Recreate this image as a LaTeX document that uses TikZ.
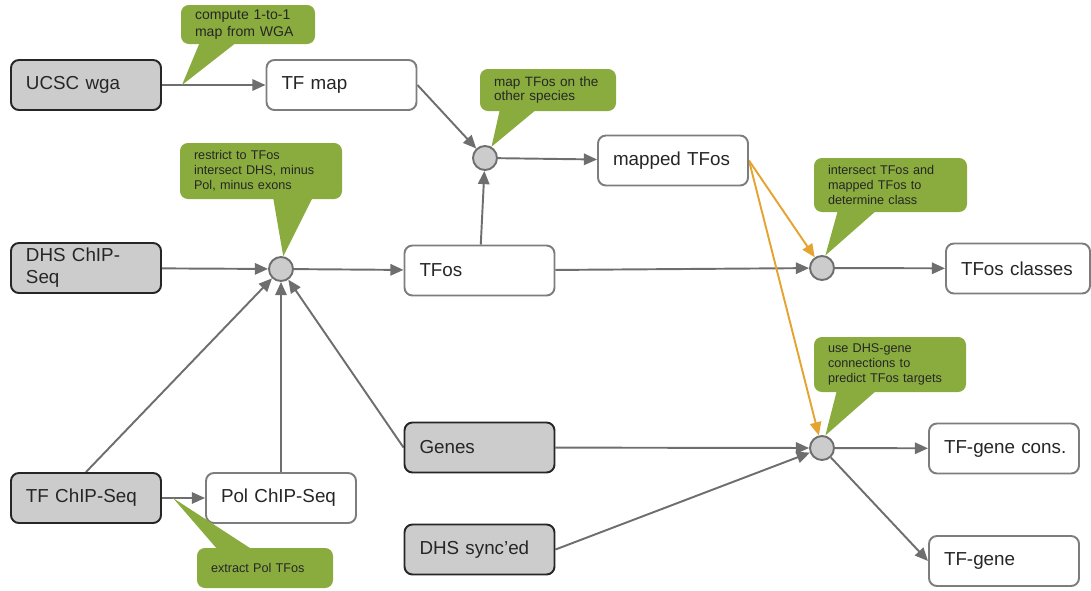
\documentclass[tikz,border=0pt]{standalone}
\usepackage{fontspec}
\setmainfont{Liberation Sans}
\usepackage{tikz}
\usetikzlibrary{arrows.meta}
\pgfdeclarelayer{bg}
\pgfsetlayers{bg,main}
\definecolor{notegreen}{HTML}{8AAC3E}
\definecolor{maporange}{HTML}{E5A331}
\definecolor{boxgray}{HTML}{CCCCCC}
\definecolor{linegray}{HTML}{6E6E6E}
\tikzset{
        box/.style={draw=linegray!90, line width=1.1pt, rounded corners=4.5pt, fill=white,
                minimum height=1cm, text width=2.4cm, inner xsep=0.3cm, inner ysep=0pt,
                align=left, font=\fontsize{10.7}{12.5}\selectfont, text=black!85},
        src/.style={box, draw=black!85, fill=boxgray},
        junc/.style={circle, draw=linegray, line width=1.1pt, fill=boxgray, minimum size=0.48cm, inner sep=0pt},
        note/.style={fill=notegreen, rounded corners=4.5pt, inner xsep=0.28cm, inner ysep=0pt,
                align=left, font=\fontsize{7.2}{8.5}\selectfont, text=black!85},
        arr/.style={draw=linegray, line width=1.1pt, -{Triangle[length=7.5pt,width=6.5pt]}},
        orarr/.style={arr, draw=maporange},
}

\begin{document}
\begin{tikzpicture}
        \useasboundingbox (0cm, 0cm) rectangle (21.820000cm, -11.800000cm);
        % boxes
        \node (ucsc) [src] at (1.720000cm, -1.700000cm) {UCSC wga};
        \node (tfmap) [box] at (6.830000cm, -1.700000cm) {TF map};
        \node (dhs) [src] at (1.720000cm, -5.360000cm) {DHS ChIP-\\Seq};
        \node (tfos) [box] at (9.590000cm, -5.410000cm) {TFos};
        \node (mapped) [box] at (13.460000cm, -3.210000cm) {mapped TFos};
        \node (classes) [box, text width=2.28cm] at (20.360000cm, -5.370000cm) {TFos classes};
        \node (genes) [src] at (9.590000cm, -8.950000cm) {Genes};
        \node (sync) [src] at (9.590000cm, -10.990000cm) {DHS sync'ed};
        \node (tfchip) [src] at (1.720000cm, -9.960000cm) {TF ChIP-Seq};
        \node (pol) [box] at (5.620000cm, -9.960000cm) {Pol ChIP-Seq};
        \node (cons) [box] at (20.080000cm, -8.970000cm) {\mbox{TF-gene cons.}};
        \node (tfgene) [box] at (20.080000cm, -11.220000cm) {TF-gene};
        % junctions
        \node (j0) [junc] at (5.620000cm, -5.380000cm) {};
        \node (j1) [junc] at (9.700000cm, -3.160000cm) {};
        \node (j2) [junc] at (16.440000cm, -5.360000cm) {};
        \node (j3) [junc] at (16.440000cm, -8.960000cm) {};
        \coordinate (t0) at (3.640000cm, -1.700000cm);
        \coordinate (t5) at (3.460000cm, -9.960000cm);
        \begin{pgfonlayer}{bg}
                \draw (ucsc) edge [arr] (tfmap);
                \draw (tfmap.east) edge [arr] (j1);
                \draw (j1) edge [arr] (mapped);
                \draw (tfos) edge [arr] (j1);
                \draw (dhs) edge [arr] (j0);
                \draw (j0) edge [arr] (tfos);
                \draw (tfos) edge [arr] (j2);
                \draw (mapped.east) edge [orarr] (j2);
                \draw (mapped.east) edge [orarr] (j3);
                \draw (j2) edge [arr] (classes);
                \draw (tfchip.north) edge [arr] (j0);
                \draw (pol.north) edge [arr] (j0);
                \draw (genes.west) edge [arr] (j0);
                \draw (genes) edge [arr] (j3);
                \draw (sync.east) edge [arr] (j3);
                \draw (tfchip) edge [arr] (pol);
                \draw (j3) edge [arr] (cons);
                \draw (j3) edge [arr] (tfgene.west);
        \end{pgfonlayer}
        % notes
        \node (n0) [note, text width=2.12cm, minimum height=0.78cm, font=\fontsize{8}{9.5}\selectfont] at (4.960000cm, -0.490000cm) {compute 1-to-1\\map from WGA};
        \node (n1) [note, text width=2.68cm, minimum height=1.12cm] at (5.220000cm, -3.420000cm) {restrict to TFos\\intersect DHS, minus\\Pol, minus exons};
        \node (n2) [note, text width=2.16cm, minimum height=0.84cm, font=\fontsize{7.7}{8.5}\selectfont] at (10.960000cm, -1.800000cm) {map TFos on the\\other species};
        \node (n3) [note, text width=2.50cm, minimum height=1.08cm] at (17.810000cm, -3.700000cm) {intersect TFos and\\mapped TFos to\\determine class};
        \node (n4) [note, text width=2.48cm, minimum height=1.10cm] at (17.800000cm, -7.290000cm) {use DHS-gene\\connections to\\predict TFos targets};
        \node (n5) [note, text width=2.16cm, minimum height=0.80cm] at (5.300000cm, -11.360000cm) {extract Pol TFos};
        \fill [notegreen] (4.000000cm, -0.840000cm) -- (t0) -- (4.740000cm, -0.840000cm) -- cycle;
        \fill [notegreen] (5.460000cm, -3.940000cm) -- (j0.80) -- (6.260000cm, -3.940000cm) -- cycle;
        \fill [notegreen] (10.000000cm, -2.180000cm) -- (j1.60) -- (10.740000cm, -2.180000cm) -- cycle;
        \fill [notegreen] (16.760000cm, -4.200000cm) -- (j2.75) -- (17.540000cm, -4.200000cm) -- cycle;
        \fill [notegreen] (16.740000cm, -7.800000cm) -- (j3.75) -- (17.540000cm, -7.800000cm) -- cycle;
        \fill [notegreen] (4.360000cm, -11.000000cm) -- (t5) -- (5.060000cm, -11.000000cm) -- cycle;
\end{tikzpicture}
\end{document}
